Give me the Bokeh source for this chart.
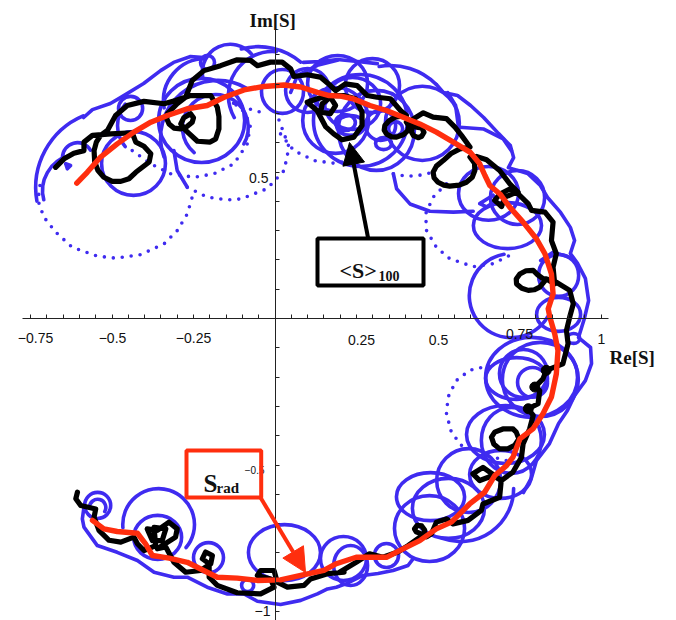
from bokeh.plotting import figure
from bokeh.embed import file_html
from bokeh.resources import INLINE
from bokeh.models import LinearAxis, FixedTicker, Range1d, Arrow, NormalHead
from bokeh.core.properties import value

# ---- data: (Re[S], Im[S]) ----
s_rad = [(-.608,.462),(-.576,.499),(-.535,.551),(-.484,.596),(-.433,.636),(-.381,.670),(-.330,.693),(-.269,.716),(-.208,.727),(-.156,.755),(-.095,.780),(-.034,.792),(.028,.797),(.079,.790),(.130,.772),(.166,.761),(.201,.759),(.240,.750),(.291,.727),(.342,.710),(.393,.687),(.444,.664),(.495,.636),(.547,.602),(.598,.568),(.628,.528),(.644,.488),(.659,.454),(.690,.425),(.720,.380),(.761,.329),(.802,.272),(.828,.221),(.848,.152),(.853,.084),(.838,.033),(.843,.005),(.858,-.052),(.868,-.109),(.863,-.189),(.848,-.268),(.822,-.325),(.791,-.377),(.751,-.411),(.730,-.473),(.710,-.502),(.674,-.536),(.643,-.593),(.597,-.633),(.541,-.695),(.495,-.718),(.444,-.758),(.382,-.792),(.342,-.815),(.249,-.815),(.188,-.837),(.150,-.860),(.079,-.877),(.017,-.892),(-.054,-.894),(-.116,-.886),(-.177,-.883),(-.208,-.866),(-.269,-.832),(-.325,-.818),(-.376,-.809),(-.397,-.769),(-.422,-.733),(-.484,-.727),(-.525,-.718),(-.560,-.689)]

s_avg_main = [(-.673,.516),(-.647,.545),(-.617,.564),(-.586,.573),(-.586,.602),(-.560,.625),(-.504,.630),(-.438,.634),(-.427,.602),(-.402,.588),(-.381,.562),(-.386,.534),(-.407,.516),(-.427,.499),(-.448,.477),(-.473,.468),(-.499,.468),(-.525,.482),(-.543,.505),(-.553,.534),(-.555,.573),(-.548,.602),(-.535,.625),(-.514,.642),(-.489,.693),(-.453,.727),(-.402,.741),(-.340,.733),(-.305,.744),(-.259,.761),(-.197,.761),(-.177,.721),(-.172,.689),(-.172,.647),(-.182,.613),(-.199,.602),(-.238,.605),(-.274,.642),(-.289,.664),(-.280,.685),(-.259,.699),(-.250,.685),(-.254,.670),(-.270,.655),(-.289,.647),(-.310,.650),(-.325,.664),(-.332,.682),(-.330,.699),(-.300,.733),(-.274,.755),(-.254,.812),(-.218,.846),(-.167,.863),(-.116,.883),(-.075,.881),(-.054,.863),(-.014,.875),(.022,.875),(.048,.852),(.058,.826),(.099,.832),(.139,.824),(.170,.795),(.186,.778),(.216,.801),(.252,.795),(.283,.761),(.313,.755),(.354,.750),(.385,.710),(.403,.693),(.368,.687),(.350,.675),(.337,.659),(.335,.643),(.342,.630),(.357,.620),(.373,.619),(.395,.628),(.408,.642),(.410,.658),(.403,.670),(.434,.653),(.450,.650),(.457,.636),(.450,.622),(.439,.617),(.425,.624),(.419,.636),(.424,.681),(.455,.702),(.485,.687),(.526,.682),(.552,.653),(.572,.625),(.598,.585),(.567,.579),(.540,.563),(.516,.539),(.495,.520),(.485,.499),(.488,.480),(.500,.465),(.518,.455),(.536,.452),(.565,.455),(.587,.465),(.605,.482),(.613,.505),(.612,.530),(.598,.551),(.618,.553),(.649,.542),(.689,.505),(.720,.460),(.746,.431),(.720,.442),(.690,.425),(.674,.403),(.695,.382),(.705,.414),(.741,.431),(.777,.391),(.787,.369),(.828,.363),(.853,.329),(.848,.266),(.863,.221),(.853,.175),(.858,.118),(.833,.135),(.823,.135),(.805,.150),(.792,.164),(.770,.163),(.751,.152),(.740,.135),(.741,.118),(.757,.103),(.777,.096),(.795,.098),(.812,.107),(.833,.135),(.863,.124),(.904,.096),(.915,.050),(.904,.005),(.894,-.041),(.899,-.086),(.883,-.155),(.832,-.177),(.822,-.206),(.797,-.234),(.812,-.246),(.807,-.291),(.777,-.308),(.792,-.331),(.781,-.377),(.761,-.428),(.756,-.474),(.730,-.524),(.694,-.553),(.674,-.536),(.638,-.508),(.607,-.530),(.628,-.553),(.669,-.536),(.694,-.553),(.689,-.610),(.638,-.633),(.633,-.655),(.592,-.689),(.546,-.701),(.526,-.684),(.495,-.695),(.480,-.735),(.465,-.745),(.449,-.735),(.433,-.728),(.428,-.718),(.436,-.706),(.450,-.708),(.459,-.722),(.459,-.735),(.408,-.775),(.377,-.797),(.331,-.815),(.290,-.803),(.249,-.832),(.198,-.866),(.212,-.866),(.161,-.871),(.109,-.889),(.089,-.911),(.038,-.917),(.007,-.900),(-.003,-.860),(-.044,-.860),(-.054,-.877),(-.013,-.889),(-.003,-.917),(-.044,-.940),(-.116,-.936),(-.177,-.911),(-.202,-.883),(-.202,-.837),(-.223,-.820),(-.213,-.797),(-.192,-.809),(-.197,-.837),(-.228,-.860),(-.274,-.866),(-.310,-.832),(-.335,-.780),(-.361,-.786),(-.305,-.746),(-.300,-.718),(-.325,-.695),(-.361,-.723),(-.392,-.718),(-.376,-.758),(-.346,-.758),(-.335,-.718),(-.371,-.713),(-.366,-.775),(-.402,-.792),(-.422,-.769),(-.433,-.746),(-.473,-.763),(-.509,-.757),(-.540,-.723),(-.555,-.678),(-.550,-.650),(-.596,-.638),(-.611,-.615),(-.606,-.593)]

s_avg_loop = [(.099,.738),(.129,.750),(.170,.761),(.211,.761),(.247,.750),(.267,.704),(.267,.659),(.242,.619),(.206,.610),(.180,.630),(.155,.655),(.129,.710),(.099,.738)]
s_avg_knot = [(.145,.733),(.140,.704),(.170,.699),(.186,.727),(.170,.755),(.145,.733)]
s_avg_ring = [(.730,-.377),(.699,-.377),(.674,-.388),(.664,-.405),(.671,-.428),(.689,-.445),(.714,-.445),(.735,-.433),(.748,-.411),(.740,-.388),(.730,-.377)]
knob_re = [.797,.777,.832]
knob_im = [-.234,-.308,-.177]

# whole loops of the blue curve: centre, width, height
loop_re = [-.434,-.443,-.225,.023,.100,.192,.262,.238,.299,.311,.452,.713,.655,.333,-.207,.870,.916,.787,.762,.790,.814,.707,.725,.692,.594,.532,.477,.474,.342,.210,.232,.029,-.084,-.204,-.360,-.544,.870,.744,.186,.216,.232,.370,.324,.741]
loop_im = [.529,.717,.676,.775,.778,.802,.676,.734,.795,.642,.666,.317,.427,.597,.874,.014,-.068,-.201,-.188,-.218,-.208,-.396,-.416,-.532,-.553,-.648,-.608,-.717,-.809,-.819,-.843,-.799,-.911,-.816,-.747,-.638,.147,.413,.676,.669,.659,.648,.659,-.205]
loop_w = [.196,.074,.264,.129,.135,.184,.288,.172,.166,.233,.227,.209,.184,.049,.043,.135,.037,.282,.147,.092,.233,.239,.184,.190,.196,.221,.209,.215,.074,.141,.104,.221,.037,.092,.147,.080,.123,.166,.202,.061,.086,.043,.092,.190]
loop_h = [.218,.082,.287,.150,.150,.191,.314,.177,.184,.273,.253,.157,.184,.041,.048,.116,.034,.273,.164,.102,.253,.198,.225,.164,.218,.205,.164,.225,.082,.150,.137,.191,.041,.102,.150,.089,.143,.184,.225,.055,.068,.048,.102,.143]

# open arcs of the blue curve: centre, radius, first and last angle in degrees
arc_re = [-.495,-.606,-.603,-.137,-.051,-.183,-.176,-.382,-.213,-.008,.354,.569,-.357,-.544,.725]
arc_im = [.447,.549,.437,.840,.703,.652,.618,.659,.744,.761,.642,-.580,-.703,-.645,.078]
arc_r = [.239,.046,.110,.086,.202,.101,.175,.101,.129,.135,.199,.163,.110,.025,.129]
arc_from = [113,30,105,40,50,-30,60,140,90,85,45,250,-40,-30,100]
arc_to = [190,180,195,190,105,230,200,220,190,210,100,360,185,180,330]

blue_top_a = [(-.587,.686),(-.560,.713),(-.505,.734),(-.474,.754),(-.403,.802),(-.351,.846),(-.311,.874),(-.259,.894),(-.219,.891)]
blue_top_b = [(.087,.874),(.140,.877),(.192,.884),(.253,.877),(.314,.870)]
blue_right = [(.495,.799),(.517,.771),(.560,.761),(.600,.727),(.640,.686),(.686,.631),(.722,.590),(.732,.549),(.716,.515),(.775,.495),(.814,.454),(.836,.413),(.876,.362),(.906,.311),(.919,.266),(.906,.222),(.928,.188),(.952,.137),(.962,.061),(.949,0),(.931,-.065),(.968,-.099),(.971,-.154),(.952,-.212),(.919,-.263),(.897,-.314),(.870,-.358),(.842,-.427),(.802,-.485),(.787,-.543),(.762,-.594)]
blue_bottom = [(.423,-.821),(.408,-.843),(.362,-.860),(.316,-.870),(.270,-.877),(.219,-.905),(.188,-.917),(.161,-.923),(.130,-.940),(.079,-.962),(.017,-.976),(-.054,-.965),(-.095,-.940),(-.146,-.940),(-.208,-.917),(-.269,-.883),(-.310,-.883),(-.371,-.866),(-.422,-.826),(-.484,-.798),(-.545,-.775),(-.586,-.712),(-.591,-.684),(-.586,-.644)]
blue_blob_a = [(-.642,.528),(-.627,.522),(-.637,.511),(-.642,.528)]
blue_blob_b = [(.628,.392),(.669,.421),(.679,.404),(.649,.381),(.628,.392)]
blue_c12 = [(-.310,.573),(-.300,.505),(-.269,.448)]
blue_z3 = [(.048,.772),(.069,.830),(.130,.864),(.191,.881)]
blue_w = [(.363,.494),(.373,.443),(.414,.391),(.475,.366),(.547,.363),(.608,.366)]
blue_x = [(.567,.653),(.639,.647),(.700,.613),(.725,.573)]
blue_inner = [(.530,.771),(.554,.727),(.563,.652)]
blue_q2 = [(.815,.198),(.853,.226),(.904,.209)]

dots_a = [(-.721,.454),(-.727,.403),(-.709,.346),(-.673,.295),(-.622,.243),(-.545,.213),(-.489,.206),(-.412,.218),(-.340,.255),(-.300,.300),(-.269,.357),(-.254,.414)]
dots_b = [(-.269,.448),(-.208,.414),(-.146,.405),(-.105,.408),(-.024,.443),(.028,.505),(.043,.585),(.007,.693)]
dots_c = [(-.438,.573),(-.381,.528),(-.320,.494),(-.248,.482),(-.187,.494),(-.126,.528),(-.085,.596),(-.075,.664),(-.105,.721),(-.136,.738),(-.064,.710),(-.024,.699)]
dots_d = [(.017,.630),(.058,.573),(.120,.539),(.181,.530),(.232,.539)]
dots_e = [(.363,.494),(.403,.485),(.444,.489),(.485,.499)]
dots_f = [(.526,.460),(.485,.414),(.462,.357),(.465,.300),(.495,.243),(.536,.204),(.608,.177),(.669,.187),(.730,.221)]
dots_g = [(.572,-.433),(.541,-.388),(.526,-.325),(.531,-.268),(.556,-.212),(.597,-.177),(.638,-.166),(.679,-.163)]
dots_h = [(.628,-.468),(.669,-.473),(.710,-.485)]

blue_solid = [blue_top_a, blue_top_b, blue_right, blue_bottom, blue_blob_a, blue_blob_b, blue_c12, blue_z3, blue_w, blue_x, blue_inner, blue_q2]
blue_dotted = [dots_a, dots_b, dots_c, dots_d, dots_e, dots_f, dots_g, dots_h]

re_ticks = [-.75,-.7,-.65,-.6,-.55,-.5,-.45,-.4,-.35,-.3,-.25,-.2,-.15,-.1,-.05,.05,.1,.15,.2,.25,.3,.35,.4,.45,.5,.55,.6,.65,.7,.75,.8,.85,.9,.95,1]
im_ticks = [-1,-.9,-.8,-.7,-.6,-.5,-.4,-.3,-.2,-.1,.1,.2,.3,.4,.5,.6,.7,.8,.9]

BLUE = "#3F2BF0"
BLACK = "#000000"
RED = "#FF2E0E"
SERIF = value("Liberation Serif")
SANS = value("Liberation Sans")

# mapping of page pixels for the annotations only
X0, XS, Y0, YS = 274.5, 326.0, 318.0, 293.0
def rx(px): return (px - X0) / XS
def ry(py): return (Y0 - py) / YS

W, H = 668, 620
p = figure(width=W, height=H, output_backend="svg", toolbar_location=None,
           x_range=Range1d(rx(0), rx(W)), y_range=Range1d(ry(H), ry(0)),
           x_axis_location=None, y_axis_location=None,
           min_border=0, min_border_left=0, min_border_right=0, min_border_top=0, min_border_bottom=0,
           outline_line_color=None, background_fill_color="white", border_fill_color="white")
p.grid.visible = False

xax = LinearAxis(fixed_location=0, ticker=FixedTicker(ticks=[], minor_ticks=re_ticks), bounds=(rx(22), rx(608)),
                 major_label_text_font_size="0px", minor_tick_in=4, minor_tick_out=0,
                 axis_line_color="#222222", minor_tick_line_color="#222222", axis_line_width=1)
yax = LinearAxis(fixed_location=0, ticker=FixedTicker(ticks=[], minor_ticks=im_ticks), bounds=(ry(H), ry(29)),
                 major_label_text_font_size="0px", minor_tick_in=4, minor_tick_out=0,
                 axis_line_color="#222222", minor_tick_line_color="#222222", axis_line_width=1)
p.add_layout(xax, "below")
p.add_layout(yax, "left")

for stroke in blue_dotted:
    xs, ys = zip(*stroke)
    p.line(list(xs), list(ys), line_color=BLUE, line_width=3.6, line_dash="0 9", line_cap="round", line_join="round")
p.ellipse(x=loop_re, y=loop_im, width=loop_w, height=loop_h, fill_color=None, line_color=BLUE, line_width=3.6)
p.arc(x=arc_re, y=arc_im, radius=arc_r, start_angle=arc_from, end_angle=arc_to,
      start_angle_units="deg", end_angle_units="deg", line_color=BLUE, line_width=3.6, line_cap="round")
for stroke in blue_solid:
    xs, ys = zip(*stroke)
    p.line(list(xs), list(ys), line_color=BLUE, line_width=3.6, line_cap="round", line_join="round")
for stroke in [s_avg_main, s_avg_loop, s_avg_knot, s_avg_ring]:
    xs, ys = zip(*stroke)
    p.line(list(xs), list(ys), line_color=BLACK, line_width=5.2, line_cap="round", line_join="round")
p.scatter(knob_re, knob_im, size=10, marker="circle", color=BLACK)
xs, ys = zip(*s_rad)
p.line(list(xs), list(ys), line_color=RED, line_width=5.4, line_cap="round", line_join="round")

def txt(s, px, py, size, font=SANS, style="normal", align="left"):
    p.text([rx(px)], [ry(py)], text=[s], text_font=font, text_font_size=f"{size}px",
           text_font_style=style, text_align=align, text_baseline="alphabetic", text_color="#111111")

for s, px, py in [("−0.75", 35, 337), ("−0.5", 112, 337), ("−0.25", 193, 337), ("0.25", 361, 339), ("0.5", 438, 339), ("0.75", 519, 333), ("1", 601, 338)]:
    txt(s, px, py, 14, align="center")
txt("0.5", 268, 177, 14, align="right")
txt("−0.5", 264, 469, 10, align="right")
txt("−1", 270, 610, 14, align="right")
txt("Im[S]", 249, 20, 19, SERIF, "bold")
txt("Re[S]", 609, 357, 19, SERIF, "bold")
txt("<S>", 339, 270, 22, SERIF, "bold")
txt("100", 378, 275, 14, SERIF, "bold")
txt("S", 203, 483, 25, SERIF, "bold")
txt("rad", 216, 487, 15, SERIF, "bold")

p.quad(left=[rx(317)], right=[rx(423)], top=[ry(238)], bottom=[ry(285)], fill_color=None, line_color=BLACK, line_width=4)
p.quad(left=[rx(186)], right=[rx(260.7)], top=[ry(450)], bottom=[ry(497)], fill_color=None, line_color=RED, line_width=4)

p.add_layout(Arrow(end=NormalHead(size=22, fill_color=BLACK, line_color=BLACK), x_start=rx(367.5), y_start=ry(237),
                   x_end=rx(349), y_end=ry(142), line_color=BLACK, line_width=4))
p.add_layout(Arrow(end=NormalHead(size=24, fill_color=RED, line_color=RED), x_start=rx(260), y_start=ry(497),
                   x_end=rx(305), y_end=ry(572), line_color=RED, line_width=4))

open("out.html", "w").write(file_html(p, INLINE))
